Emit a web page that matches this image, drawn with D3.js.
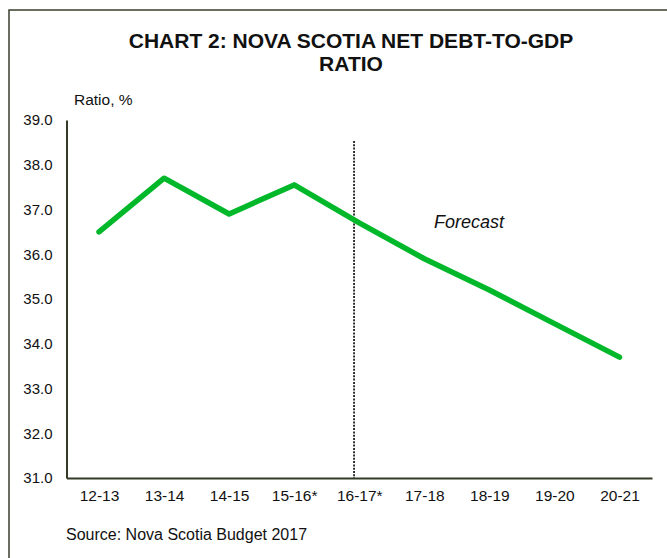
<!DOCTYPE html>
<html>
<head>
<meta charset="utf-8">
<script src="https://cdn.jsdelivr.net/npm/d3@7"></script>
<style>
  body { margin: 0; background: #fff; }
  text { font-family: "Liberation Sans", Arial, sans-serif; fill: #111; }
</style>
</head>
<body>
<div id="viz"></div>
<script>
// data
let years = ["12-13", "13-14", "14-15", "15-16*", "16-17*", "17-18", "18-19", "19-20", "20-21"]
let ratio = [36.5, 37.7, 36.9, 37.55, 36.7, 35.9, 35.2, 34.45, 33.7]
let yTicks = [31, 32, 33, 34, 35, 36, 37, 38, 39]
let forecastStart = 3.92   // category index where the dotted divider sits

let plotData = years.map((d, i) => ({x: i, label: d, y: ratio[i]}))

let w = 667;
let h = 558;

const svg = d3.select("#viz")
  .append("svg")
  .attr("width", w)
  .attr("height", h);

// frame around the whole chart (runs off the right and bottom edges)
svg.append("rect")
  .attr("x", 9)
  .attr("y", 10)
  .attr("width", w + 20)
  .attr("height", h + 20)
  .attr("fill", "none")
  .attr("stroke", "#3a3f2c")
  .attr("stroke-width", 1.5)

const xScale = d3.scaleLinear()
  .domain([-0.5, years.length - 0.5])
  .range([66.5, 652]);

const yScale = d3.scaleLinear()
  .domain([31, 39])
  .range([478, 120]);

// title
let title = svg.append("text")
  .attr("x", 351)
  .attr("y", 48)
  .attr("text-anchor", "middle")
  .style("font-size", "21px")
  .style("font-weight", "bold")
title.append("tspan").attr("x", 351).attr("dy", 0).text("CHART 2: NOVA SCOTIA NET DEBT-TO-GDP")
title.append("tspan").attr("x", 351).attr("dy", 23).text("RATIO")

svg.append("text")
  .attr("x", 74)
  .attr("y", 105)
  .style("font-size", "15.5px")
  .text("Ratio, %")

let axisGroup = svg.append("g")

// y axis
axisGroup.append("g")
  .attr("transform", `translate(${xScale.range()[0]},0)`)
  .call(d3.axisLeft(yScale).tickValues(yTicks).tickFormat(d3.format(".1f")).tickSize(0).tickPadding(14))
  .call(g => g.select(".domain").attr("stroke", "#333a26").attr("stroke-width", 2))
  .call(g => g.selectAll("text").style("font-size", "15px").attr("fill", "#111")
    .style("font-family", "'Liberation Sans', Arial, sans-serif"))

// x axis
axisGroup.append("g")
  .attr("transform", `translate(0,${yScale(31)})`)
  .call(d3.axisBottom(xScale).tickValues(d3.range(years.length)).tickFormat(i => years[i]).tickSize(0).tickPadding(12))
  .call(g => g.select(".domain").attr("stroke", "#333a26").attr("stroke-width", 2))
  .call(g => g.selectAll("text").style("font-size", "15.5px").attr("fill", "#111")
    .style("font-family", "'Liberation Sans', Arial, sans-serif"))

// forecast divider
svg.append("line")
  .attr("x1", xScale(forecastStart))
  .attr("x2", xScale(forecastStart))
  .attr("y1", 141)
  .attr("y2", yScale(31))
  .attr("stroke", "#000")
  .attr("stroke-width", 1.6)
  .attr("stroke-dasharray", "2,1.3")

svg.append("text")
  .attr("x", 434)
  .attr("y", 228)
  .style("font-size", "18px")
  .style("font-style", "italic")
  .text("Forecast")

// the line
const line = d3.line()
  .x(d => xScale(d.x))
  .y(d => yScale(d.y))

svg.append("path")
  .datum(plotData)
  .attr("d", line)
  .attr("fill", "none")
  .attr("stroke", "#00b82a")
  .attr("stroke-width", 5.5)
  .attr("stroke-linejoin", "round")
  .attr("stroke-linecap", "round")

svg.append("text")
  .attr("x", 66)
  .attr("y", 540)
  .style("font-size", "16px")
  .text("Source: Nova Scotia Budget 2017")
</script>
</body>
</html>
